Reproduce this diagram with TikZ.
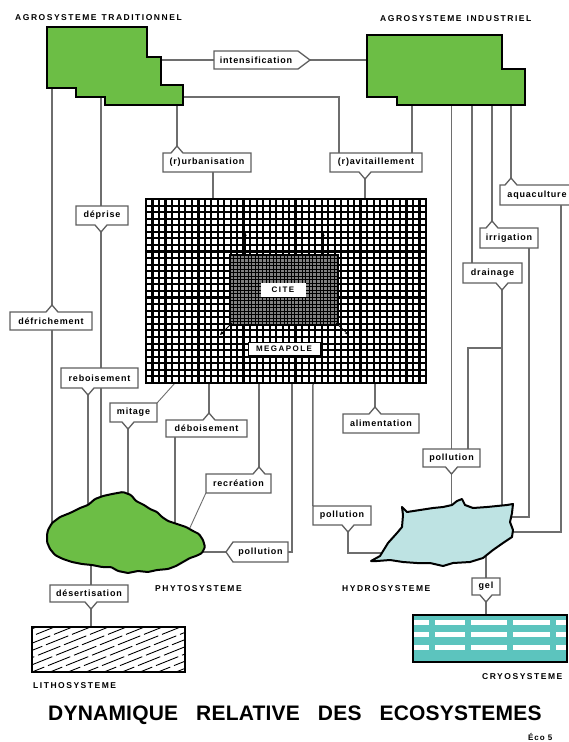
\documentclass[tikz,border=0pt]{standalone}
\usepackage{fontspec}
\setmainfont{Liberation Sans}
\newfontfamily\lblf[LetterSpace=9]{Liberation Sans}
\newfontfamily\capf[LetterSpace=18]{Liberation Sans}
\newfontfamily\ttlf[LetterSpace=1]{Liberation Sans}
\newfontfamily\ecof[LetterSpace=12]{Liberation Sans}
\usetikzlibrary{backgrounds,arrows.meta}
\definecolor{agro}{RGB}{108,190,69}
\definecolor{hydro}{RGB}{190,227,227}
\definecolor{cryo}{RGB}{92,196,190}
\definecolor{lnc}{RGB}{110,110,110}
\definecolor{lbc}{RGB}{95,95,95}
\tikzset{
  conn/.style={draw=lnc, line width=1.5pt},
  thinconn/.style={draw=lnc, line width=0.9pt},
  lblborder/.style={draw=lbc, fill=white, line width=1.3pt, line join=miter},
  lbltext/.style={inner sep=0pt, font=\lblf\bfseries\fontsize{9}{10}\selectfont, text=black},
  capt/.style={inner sep=0pt, font=\capf\bfseries\fontsize{8.5}{9}\selectfont, anchor=base west},
  ecoshape/.style={draw=black, line width=2pt, line join=miter},
  gridl/.style={line width=2.1pt, black},
  citel/.style={line width=1pt, black},
  citearrow/.style={-{Stealth[length=4pt,width=3.5pt]}, line width=0.9pt, black},
}
% label with pointer on top
\newcommand\labT[7]{%
  \draw[lblborder] (#2,#3) -- ({#6-6},#3) -- (#6,{#3-7}) coordinate (#1-tip) -- ({#6+6},#3) -- (#4,#3) -- (#4,#5) -- (#2,#5) -- cycle;
  \node[lbltext, minimum width={(#4-#2)*1pt}, minimum height={(#5-#3)*1pt}] (#1) at ({(#2+#4)/2},{(#3+#5)/2}) {#7};
}
% label with pointer at bottom
\newcommand\labB[7]{%
  \draw[lblborder] (#2,#3) -- (#4,#3) -- (#4,#5) -- ({#6+6},#5) -- (#6,{#5+7}) coordinate (#1-tip) -- ({#6-6},#5) -- (#2,#5) -- cycle;
  \node[lbltext, minimum width={(#4-#2)*1pt}, minimum height={(#5-#3)*1pt}] (#1) at ({(#2+#4)/2},{(#3+#5)/2}) {#7};
}
% label pointing right (full height)
\newcommand\labR[7]{%
  \draw[lblborder] (#2,#3) -- (#4,#3) -- (#6,{(#3+#5)/2}) coordinate (#1-tip) -- (#4,#5) -- (#2,#5) -- cycle;
  \node[lbltext, minimum width={(#4-#2)*1pt}, minimum height={(#5-#3)*1pt}] (#1) at ({(#2+#4)/2},{(#3+#5)/2}) {#7};
}
% label pointing left (full height)
\newcommand\labL[7]{%
  \draw[lblborder] (#2,#3) -- (#4,#3) -- (#4,#5) -- (#2,#5) -- (#6,{(#3+#5)/2}) coordinate (#1-tip) -- cycle;
  \node[lbltext, minimum width={(#4-#2)*1pt}, minimum height={(#5-#3)*1pt}] (#1) at ({(#2+#4)/2},{(#3+#5)/2}) {#7};
}
\begin{document}
\begin{tikzpicture}[x=1pt,y=-1pt]
\useasboundingbox (0,0) rectangle (568,742);
\begin{pgfonlayer}{background}
\fill[white] (0,0) rectangle (568,742);
\end{pgfonlayer}

% ---------- agrosystems
\filldraw[ecoshape, fill=agro] (47,27) -- (147,27) -- (147,57) -- (161,57) -- (161,85) -- (183,85) -- (183,105) -- (105,105) -- (105,97) -- (76,97) -- (76,88) -- (47,88) -- cycle;
\filldraw[ecoshape, fill=agro] (367,35) -- (502,35) -- (502,69) -- (525,69) -- (525,105) -- (397,105) -- (397,97) -- (367,97) -- cycle;
\coordinate (tA) at (161,60);
\coordinate (tB) at (183,97);
\coordinate (tC) at (177,105);
\coordinate (tD) at (52,88);
\coordinate (tE) at (101,97);
\coordinate (iA) at (367,60);
\coordinate (iB) at (412,105);
\coordinate (iC) at (451.5,105);
\coordinate (iD) at (472,105);
\coordinate (iE) at (492,105);
\coordinate (iF) at (511,105);

% ---------- megapole
\node[minimum width=280pt, minimum height=184pt, inner sep=0pt] (mega) at (286,291) {};
\fill[white] (146,199) rectangle (426,383);
\foreach \i in {0,...,43} {\pgfmathsetmacro\xx{146+\i*280/43} \draw[gridl] (\xx,199) -- (\xx,383);}
\foreach \j in {0,...,28} {\pgfmathsetmacro\yy{199+\j*184/28} \draw[gridl] (146,\yy) -- (426,\yy);}
\foreach \i in {8,15,23,33} {\pgfmathsetmacro\xx{146+\i*280/43} \draw[line width=2.9pt] (\xx,199) -- (\xx,383);}
\foreach \j in {8,15} {\pgfmathsetmacro\yy{199+\j*184/28} \draw[line width=2.9pt] (146,\yy) -- (426,\yy);}
\draw[line width=2.5pt] (146,199) rectangle (426,383);
% cite
\fill[black!50] (230,255) rectangle (338,325);
\foreach \i in {0,...,30} {\pgfmathsetmacro\xx{230+\i*108/30} \draw[citel] (\xx,255) -- (\xx,325);}
\foreach \j in {0,...,20} {\pgfmathsetmacro\yy{255+\j*70/20} \draw[citel] (230,\yy) -- (338,\yy);}
\draw[line width=2pt] (230,255) rectangle (338,325);
\node[fill=white, minimum width=45pt, minimum height=14pt, inner sep=0pt, font=\capf\bfseries\fontsize{8}{9}\selectfont] (cite) at (283,290) {CITE};
\node[fill=white, draw=black, line width=0.8pt, minimum width=72pt, minimum height=13pt, inner sep=0pt, font=\capf\bfseries\fontsize{8}{9}\selectfont] (megalbl) at (284,348.5) {MEGAPOLE};
\draw[citearrow] (245,255) -- (245,232);
\draw[citearrow] (323,255) -- (323,232);
\draw[citearrow] (232,323) -- (220,335);
\draw[citearrow] (336,323) -- (349,335);

% ---------- phytosystem
\filldraw[ecoshape, fill=agro, line join=round, rounded corners=1.2pt] (48,530) -- (52,523) -- (60,517) -- (70,513) -- (80,508) -- (88,505) -- (95,499) -- (103,496) -- (112,494) -- (123,492) -- (131,495) -- (136,501) -- (144,505) -- (150,509) -- (157,512) -- (162,517) -- (168,521) -- (177,524) -- (186,527) -- (193,531) -- (199,534) -- (203,540) -- (205,547) -- (202,553) -- (196,556) -- (190,558) -- (183,562) -- (176,566) -- (168,569) -- (157,570) -- (148,572) -- (138,571) -- (128,573) -- (118,571) -- (111,567) -- (102,567) -- (92,565) -- (82,564) -- (72,562) -- (63,559) -- (55,555) -- (50,549) -- (47,542) -- (47,535) -- cycle;
\coordinate (p1) at (52,540);
\coordinate (p2) at (101,510);
\coordinate (p3) at (88,515);
\coordinate (p4) at (128,505);
\coordinate (p5) at (175,535);
\coordinate (p6) at (188,532);
\coordinate (p7) at (198,552);
\coordinate (p8) at (91,560);

% ---------- hydrosystem
\filldraw[ecoshape, fill=hydro, line join=round] (371,561) -- (380,556) -- (388,543) -- (397,533) -- (402,527) -- (403,515) -- (402,507) -- (407,512) -- (420,510) -- (433,508) -- (443,507) -- (452,505) -- (457,501) -- (462,499) -- (465,505) -- (473,508) -- (487,507) -- (497,506) -- (507,505) -- (513,504) -- (512,513) -- (510,522) -- (513,530) -- (512,537) -- (503,543) -- (493,550) -- (483,558) -- (470,562) -- (453,563) -- (443,566) -- (430,563) -- (417,563) -- (403,562) -- (390,560) -- (377,561) -- cycle;
\coordinate (h1) at (386,553);
\coordinate (h2) at (451.5,512);
\coordinate (h3) at (502,512);
\coordinate (h4) at (505,517);
\coordinate (h5) at (505,532);
\coordinate (h6) at (486,555);

% ---------- lithosystem
\begin{scope}
\clip (32,627) rectangle (185,672);
\foreach \t in {-140,-122,...,200} \draw[line width=0.9pt, dash pattern=on 24pt off 4pt] (\t,676) -- ({\t+130},624);
\end{scope}
\draw[line width=1.8pt] (32,627) rectangle (185,672);
\coordinate (l1) at (91,627);

% ---------- cryosystem
\fill[cryo] (413,615) rectangle (567,662);
\foreach \yy in {622,634.5,647} \fill[white] (413,{\yy-2.5}) rectangle (567,{\yy+2.5});
\foreach \xx in {432,468,510,553} \fill[cryo] ({\xx-3},615) rectangle ({\xx+3},662);
\draw[line width=2pt] (413,615) rectangle (567,662);
\coordinate (c1) at (486,615);

% ---------- labels
\labR{intens}{214}{51}{298}{69}{310}{intensification}
\labT{urban}{163}{153}{251}{172}{177}{(r)urbanisation}
\labB{ravit}{330}{153}{422}{172}{365}{(r)avitaillement}
\labB{depr}{76}{206}{128}{225}{101}{déprise}
\labT{defr}{10}{312}{92}{330}{52}{défrichement}
\labB{rebo}{61}{368}{138}{388}{88}{reboisement}
\labB{mitage}{110}{403}{157}{422}{128}{mitage}
\labT{debo}{166}{420}{247}{437}{209}{déboisement}
\labT{alim}{343}{414}{419}{433}{375}{alimentation}
\labT{recr}{206}{474}{271}{493}{259}{recréation}
\labB{pollM}{313}{506}{371}{525}{348}{pollution}
\labL{pollL}{233}{542}{288}{562}{226}{pollution}
\labB{pollR}{423}{449}{480}{467}{451.5}{pollution}
\labB{drain}{463}{263}{522}{283}{502}{drainage}
\labT{irr}{480}{228}{538}{248}{492}{irrigation}
\labT{aqua}{500}{185}{574}{205}{511}{aquaculture}
\labB{gel}{472}{578}{500}{595}{486}{gel}
\labB{dese}{50}{585}{128}{602}{91}{désertisation}

% ---------- captions
\node[capt] (capTrad) at (15,20) {AGROSYSTEME\hspace{5pt}TRADITIONNEL};
\node[capt] (capInd) at (380,21) {AGROSYSTEME\hspace{5pt}INDUSTRIEL};
\node[capt] (capPhyto) at (155,591) {PHYTOSYSTEME};
\node[capt] (capHydro) at (342,591) {HYDROSYSTEME};
\node[capt] (capLitho) at (33,688) {LITHOSYSTEME};
\node[capt] (capCryo) at (482,679) {CRYOSYSTEME};
\node[anchor=base west, inner sep=0pt, font=\ttlf\bfseries\fontsize{21}{24}\selectfont] (title) at (48,720) {DYNAMIQUE\hspace{18pt}RELATIVE\hspace{18pt}DES\hspace{18pt}ECOSYSTEMES};
\node[anchor=base west, inner sep=0pt, font=\ecof\bfseries\fontsize{8}{9}\selectfont] (eco) at (528,740) {Éco 5};

% ---------- helper coordinates
\coordinate (rv1) at (339,153);
\coordinate (rv2) at (412,153);
\coordinate (m1) at (365,199);
\coordinate (u1) at (213,172);
\coordinate (m2) at (213,199);
\coordinate (d1) at (52,330);
\coordinate (e1) at (101,206);
\coordinate (m3) at (175,383);
\coordinate (m4) at (209,383);
\coordinate (db1) at (175,437);
\coordinate (m5) at (259,383);
\coordinate (m6) at (292,383);
\coordinate (m7) at (313,383);
\coordinate (m8) at (375,383);
\coordinate (dr1) at (472,263);
\coordinate (br) at (502,348);
\coordinate (pr2) at (468,449);
\coordinate (ir1) at (529,248);
\coordinate (aq1) at (561,205);
\coordinate (ds1) at (91,585);

% ---------- connectors
\begin{pgfonlayer}{background}
\draw[conn] (tA) -- (intens.west);
\draw[conn] (intens-tip) -- (iA);
\draw[conn] (tB) -| (rv1);
\draw[conn] (iB) -- (rv2);
\draw[conn] (ravit-tip) -- (m1);
\draw[conn] (tC) -- (urban-tip);
\draw[conn] (u1) -- (m2);
\draw[conn] (tD) -- (defr-tip);
\draw[conn] (d1) -- (p1);
\draw[conn] (tE) -- (e1);
\draw[conn] (depr-tip) -- (p2);
\draw[conn] (rebo-tip) -- (p3);
\draw[thinconn] (m3) -- (mitage.north east);
\draw[conn] (mitage-tip) -- (p4);
\draw[conn] (m4) -- (debo-tip);
\draw[conn] (db1) -- (p5);
\draw[conn] (m5) -- (recr-tip);
\draw[thinconn] (recr.south west) -- (p6);
\draw[conn] (m6) |- (pollL.east);
\draw[conn] (pollL-tip) -- (p7);
\draw[conn] (m7) -- (pollM.north west);
\draw[conn] (pollM-tip) |- (h1);
\draw[conn] (m8) -- (alim-tip);
\draw[conn] (iC) -- (pollR.north);
\draw[conn] (pollR-tip) -- (h2);
\draw[conn] (iD) -- (dr1);
\draw[conn] (drain-tip) -- (h3);
\draw[conn] (br) -| (pr2);
\draw[conn] (iE) -- (irr-tip);
\draw[conn] (ir1) |- (h4);
\draw[conn] (iF) -- (aqua-tip);
\draw[conn] (aq1) |- (h5);
\draw[conn] (p8) -- (ds1);
\draw[conn] (dese-tip) -- (l1);
\draw[conn] (h6) -- (gel.north);
\draw[conn] (gel-tip) -- (c1);
\end{pgfonlayer}
\end{tikzpicture}
\end{document}
